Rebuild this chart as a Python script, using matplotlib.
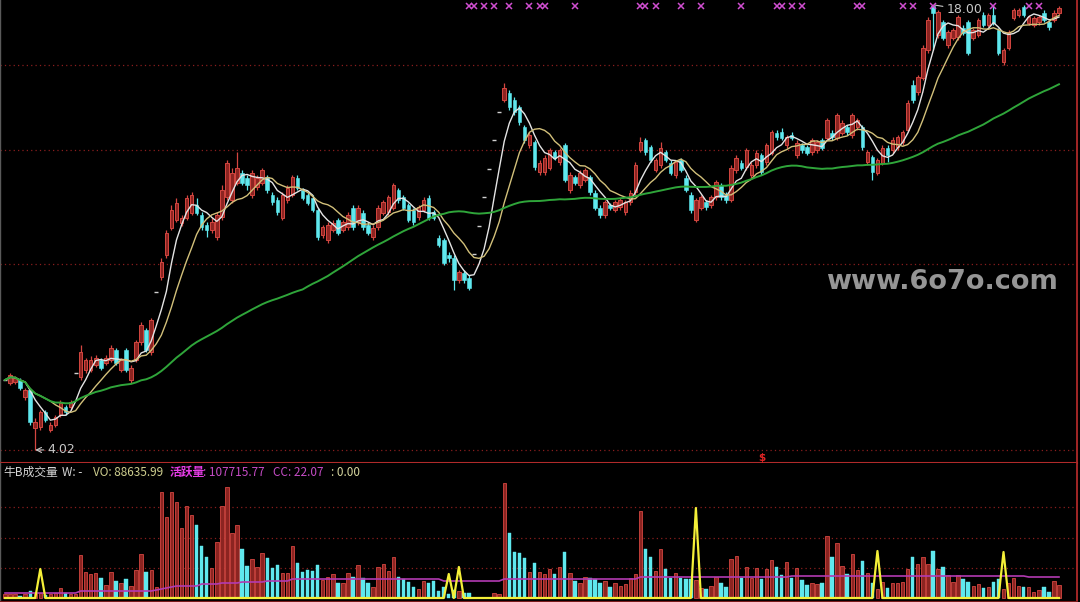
import numpy as np
import pandas as pd
import matplotlib
matplotlib.use("Agg")
import matplotlib.pyplot as plt
from matplotlib.transforms import blended_transform_factory

plt.rcParams['font.family'] = ['Noto Sans CJK SC', 'DejaVu Sans']

# daily candles (price)
opens = [
    6.22, 6.12, 6.16, 6.22, 5.68, 5.90, 4.71, 4.74, 5.21, 4.65,
    4.81, 5.12, 5.37, 5.37, 6.44, 6.31, 6.53, 6.53, 6.69, 6.85,
    6.75, 6.85, 7.16, 6.53, 7.16, 6.22, 6.85, 7.41, 7.79, 7.10,
    8.98, 9.45, 10.14, 10.99, 11.24, 11.15, 11.31, 11.46, 11.71, 11.40,
    11.09, 10.93, 10.71, 11.34, 11.96, 11.87, 12.40, 12.72, 12.56, 12.03,
    12.28, 12.40, 12.59, 12.03, 11.87, 11.31, 11.87, 12.03, 12.56, 12.18,
    12.03, 11.93, 11.56, 10.77, 10.61, 10.93, 11.24, 10.93, 11.02, 11.62,
    11.18, 11.46, 11.09, 10.71, 11.02, 11.46, 11.49, 11.62, 12.18, 11.96,
    11.71, 11.56, 11.34, 11.56, 11.93, 11.49, 10.68, 10.61, 10.14, 10.05,
    9.36, 9.58, 9.42, 10.17, 11.05, 11.96, 12.84, 13.75, 14.63, 15.01,
    15.23, 15.01, 14.79, 14.16, 13.60, 13.69, 12.75, 12.75, 12.87, 13.38,
    13.06, 13.60, 12.18, 12.59, 12.34, 12.50, 12.59, 12.09, 11.62, 11.40,
    11.71, 11.56, 11.65, 11.49, 11.81, 12.12, 13.44, 13.75, 13.53, 12.81,
    12.97, 13.38, 13.03, 12.65, 13.13, 12.56, 12.03, 11.24, 11.62, 11.81,
    11.71, 11.96, 12.34, 12.03, 11.87, 12.81, 13.03, 12.91, 12.65, 12.97,
    13.28, 13.06, 13.35, 13.97, 14.01, 13.60, 13.91, 13.28, 13.60, 13.53,
    13.38, 13.44, 13.75, 13.82, 13.97, 13.82, 13.97, 14.16, 13.91, 14.16,
    14.16, 13.06, 13.22, 12.72, 13.03, 13.50, 13.44, 13.53, 13.69, 14.07,
    15.48, 15.26, 15.70, 16.58, 17.96, 17.05, 17.46, 16.74, 16.96, 16.99,
    17.27, 17.46, 16.96, 17.05, 17.68, 17.37, 17.68, 17.21, 16.20, 16.64,
    17.58, 17.68, 17.93, 17.43, 17.37, 17.46, 17.74, 17.46, 17.52, 17.74,
]
closes = [
    6.22, 6.38, 6.28, 5.97, 5.90, 4.90, 4.90, 5.21, 4.96, 4.81,
    5.06, 5.50, 5.21, 5.53, 6.44, 7.10, 6.85, 6.85, 6.91, 6.59,
    6.91, 7.22, 6.75, 6.85, 6.53, 6.59, 7.41, 7.95, 7.16, 8.10,
    8.98, 9.92, 10.83, 11.56, 11.78, 11.31, 11.93, 12.03, 11.46, 11.02,
    10.93, 11.18, 11.40, 12.18, 13.03, 12.72, 12.87, 12.40, 12.34, 12.72,
    12.56, 12.81, 12.18, 11.81, 11.49, 12.03, 12.25, 12.59, 12.25, 11.93,
    11.78, 11.56, 10.71, 11.02, 11.09, 11.15, 10.83, 11.18, 11.40, 11.02,
    11.62, 11.02, 10.83, 10.99, 11.62, 11.81, 11.96, 12.34, 11.87, 11.62,
    11.24, 11.18, 11.65, 11.87, 11.31, 11.31, 10.46, 9.89, 10.05, 9.36,
    9.61, 9.36, 9.11, 10.17, 11.05, 11.96, 12.84, 13.75, 14.63, 15.39,
    14.79, 14.63, 14.32, 13.75, 13.91, 12.91, 13.03, 13.19, 13.44, 13.19,
    13.44, 12.50, 12.65, 12.40, 12.72, 12.81, 12.12, 11.62, 11.40, 11.81,
    11.62, 11.81, 11.87, 11.81, 12.09, 12.97, 13.69, 13.38, 13.13, 13.13,
    13.50, 13.13, 12.72, 13.06, 12.81, 12.18, 11.56, 11.87, 11.96, 11.65,
    11.96, 12.43, 11.96, 11.87, 12.87, 13.19, 12.87, 13.44, 12.97, 13.35,
    12.75, 13.60, 14.01, 13.85, 13.82, 13.85, 13.82, 13.66, 13.44, 13.35,
    13.75, 13.69, 13.50, 14.38, 13.85, 14.54, 14.29, 14.01, 14.54, 14.38,
    13.53, 13.38, 12.75, 13.13, 13.50, 13.28, 13.75, 13.85, 14.01, 14.92,
    15.01, 15.73, 16.64, 17.52, 17.74, 17.77, 16.96, 17.15, 17.21, 17.62,
    17.11, 16.49, 17.21, 17.52, 17.37, 17.68, 17.43, 16.49, 16.58, 17.15,
    17.84, 17.84, 17.68, 17.62, 17.58, 17.62, 17.52, 17.30, 17.74, 17.90,
]
highs = [
    6.31, 6.44, 6.34, 6.28, 5.97, 5.97, 5.03, 5.28, 5.28, 4.90,
    5.12, 5.59, 5.43, 5.59, 6.44, 7.32, 6.91, 6.97, 7.00, 6.91,
    7.00, 7.32, 7.22, 6.91, 7.22, 6.69, 7.47, 8.04, 7.85, 8.16,
    8.98, 10.05, 10.93, 11.71, 11.93, 11.40, 12.03, 12.12, 11.93, 11.49,
    11.18, 11.31, 11.49, 12.34, 13.13, 12.87, 13.38, 12.81, 12.65, 12.81,
    12.65, 12.87, 12.65, 12.12, 11.96, 12.12, 12.34, 12.65, 12.65, 12.25,
    12.09, 12.03, 11.62, 11.09, 11.18, 11.24, 11.31, 11.24, 11.49, 11.71,
    11.71, 11.56, 11.18, 11.09, 11.71, 11.87, 12.03, 12.40, 12.25, 12.03,
    11.78, 11.62, 11.71, 11.96, 12.03, 11.56, 10.77, 10.68, 10.24, 10.14,
    9.67, 9.67, 9.52, 10.17, 11.05, 11.96, 12.84, 13.75, 14.63, 15.54,
    15.32, 15.10, 14.85, 14.23, 14.01, 13.75, 13.13, 13.28, 13.50, 13.44,
    13.50, 13.66, 12.75, 12.65, 12.81, 12.87, 12.65, 12.18, 11.71, 11.87,
    11.78, 11.87, 11.93, 11.87, 12.18, 13.06, 13.85, 13.82, 13.60, 13.19,
    13.69, 13.44, 13.13, 13.13, 13.19, 12.65, 12.12, 11.93, 12.03, 11.87,
    12.03, 12.50, 12.40, 12.12, 12.97, 13.28, 13.13, 13.50, 13.06, 13.44,
    13.35, 13.66, 14.07, 14.07, 14.13, 13.91, 14.01, 13.75, 13.66, 13.60,
    13.82, 13.75, 13.82, 14.44, 14.07, 14.60, 14.38, 14.23, 14.60, 14.44,
    14.23, 13.44, 13.28, 13.19, 13.60, 13.60, 13.85, 13.91, 14.07, 15.01,
    15.64, 15.80, 16.74, 17.62, 18.00, 17.84, 17.52, 17.21, 17.27, 17.68,
    17.37, 17.52, 17.27, 17.58, 17.77, 17.74, 17.95, 17.27, 16.64, 17.21,
    17.90, 17.90, 17.98, 17.68, 17.65, 17.68, 17.84, 17.52, 17.84, 17.95,
]
lows = [
    6.12, 6.06, 6.09, 5.90, 5.59, 4.81, 4.02, 4.65, 4.90, 4.59,
    4.74, 5.06, 5.12, 5.28, 6.44, 6.22, 6.44, 6.47, 6.63, 6.53,
    6.69, 6.78, 6.69, 6.47, 6.47, 6.12, 6.78, 7.32, 7.10, 7.00,
    8.98, 9.36, 10.05, 10.93, 11.18, 11.05, 11.24, 11.40, 11.40, 10.93,
    10.71, 10.83, 10.61, 11.24, 11.87, 11.78, 12.34, 12.34, 12.18, 11.93,
    12.18, 12.34, 12.09, 11.71, 11.40, 11.24, 11.78, 11.96, 12.18, 11.87,
    11.71, 11.49, 10.61, 10.68, 10.52, 10.87, 10.77, 10.87, 10.93, 10.93,
    11.09, 10.93, 10.77, 10.61, 10.93, 11.40, 11.40, 11.56, 11.78, 11.56,
    11.18, 11.09, 11.24, 11.49, 11.24, 11.24, 10.39, 9.83, 9.92, 9.04,
    9.26, 9.26, 9.04, 10.17, 11.05, 11.96, 12.84, 13.75, 14.63, 14.95,
    14.70, 14.54, 14.23, 13.66, 13.50, 12.81, 12.65, 12.65, 12.81, 13.13,
    12.97, 12.43, 12.09, 12.34, 12.25, 12.43, 12.03, 11.56, 11.31, 11.31,
    11.56, 11.49, 11.56, 11.40, 11.71, 12.03, 13.38, 13.28, 13.06, 12.75,
    12.87, 13.06, 12.65, 12.56, 12.75, 12.12, 11.46, 11.18, 11.56, 11.56,
    11.62, 11.87, 11.87, 11.78, 11.81, 12.72, 12.81, 12.81, 12.56, 12.87,
    12.65, 12.97, 13.28, 13.75, 13.75, 13.50, 13.75, 13.19, 13.35, 13.28,
    13.28, 13.35, 13.44, 13.75, 13.75, 13.75, 13.91, 13.91, 13.82, 14.07,
    13.44, 12.97, 12.50, 12.65, 12.97, 13.06, 13.35, 13.44, 13.60, 14.01,
    14.92, 15.17, 15.64, 16.49, 16.58, 16.96, 16.89, 16.64, 16.89, 16.89,
    17.05, 16.42, 16.89, 16.99, 17.30, 17.30, 17.37, 16.42, 16.11, 16.58,
    17.52, 17.62, 17.62, 17.37, 17.30, 17.37, 17.46, 17.21, 17.46, 17.68,
]
# volume, thousand lots
volumes = [
    24, 24, 24, 12, 24, 42, 30, 30, 18, 24, 30, 60, 30, 24, 24,
    258, 156, 144, 150, 120, 78, 156, 102, 90, 114, 72, 168, 264, 156, 168, 66,
    636, 486, 636, 576, 420, 552, 498, 438, 312, 246, 180, 336, 552, 666, 390, 438,
    294, 192, 234, 186, 270, 240, 180, 198, 150, 150, 312, 210, 156, 168, 162, 198,
    108, 126, 144, 90, 90, 150, 126, 198, 120, 90, 66, 186, 204, 162, 246, 126,
    114, 96, 66, 54, 102, 90, 102, 42, 66, 24, 48, 42, 30, 30, 6, 6, 6, 6, 30, 24,
    690, 390, 276, 270, 240, 156, 210, 156, 144, 174, 144, 186, 276, 150, 102, 90,
    126, 120, 114, 90, 102, 66, 90, 72, 84, 120, 144, 522, 294, 246, 162, 294,
    174, 120, 150, 120, 114, 114, 108, 60, 54, 72, 126,
    90, 66, 234, 252, 120, 186, 120, 180, 114, 174, 228, 186, 138, 216, 120, 180,
    108, 78, 90, 84, 90, 372, 246, 330, 192, 144, 264, 168, 222, 150, 90, 54,
    96, 60, 90, 90, 96, 174, 246, 204, 246, 204, 282, 174, 186, 138, 96, 138,
    114, 96, 72, 84, 60, 66, 96, 114, 54, 90, 120, 72, 66, 66, 36, 48,
    66, 36, 102, 78,
]

# 活跃量 line: level changes (start index, level)
active_from = [0, 15, 30, 31, 32, 33, 34, 39, 43, 47, 52, 57, 87, 99, 126, 156, 203]
active_lvl = [30, 42, 48, 54, 60, 66, 72, 84, 90, 96, 102, 114, 102, 114, 126, 132, 126]
# 牛B成交量 spikes
spike_idx = [7, 88, 90, 137, 173, 198]
spike_val = [174, 144, 186, 540, 282, 276]
# magenta signal marks on top, and the "$" mark
sig_idx = [92, 93, 95, 97, 100, 104, 106, 107, 113, 126, 127, 129, 134, 138,
           146, 153, 154, 156, 158, 169, 170, 178, 180, 184, 196, 203, 205]
dollar_idx = 150

vo_value = 88635.99
active_value = 107715.77
cc_value = 22.07

W, H = 1080, 602
RED = '#d44640'
RED_FILL = '#8c2421'
CYAN = '#5fe8ee'
GRID = '#8a1e1e'

o = np.array(opens)
c = np.array(closes)
hi = np.array(highs)
lo = np.array(lows)
v = np.array(volumes, dtype=float)
x = np.arange(len(c))
n = len(c)

fig = plt.figure(figsize=(W / 100, H / 100), dpi=100, facecolor='black')
ax = fig.add_axes([0, 139 / H, 1077 / W, 463 / H], facecolor='black')
axv = fig.add_axes([0, 0, 1077 / W, 139 / H], facecolor='black')

xlim = (-5 / 5.043, (1077 - 5) / 5.043)

# price panel
for p in [16.11, 13.44, 9.86, 4.02]:
    ax.axhline(p, color=GRID, lw=0.9, ls=(0, (1, 2.5)), zorder=1)

up = c > o
dn = c < o
flat = c == o
ax.vlines(x[up], lo[up], hi[up], color=RED, lw=0.9, zorder=2)
ax.vlines(x[dn], lo[dn], hi[dn], color=CYAN, lw=0.9, zorder=2)
body = np.maximum(np.abs(c - o), 0.04)
ax.bar(x[up], body[up], bottom=o[up], width=0.7, color=RED_FILL,
       edgecolor=RED, lw=0.7, zorder=3)
ax.bar(x[dn], body[dn], bottom=c[dn], width=0.7, color=CYAN,
       edgecolor=CYAN, lw=0.4, zorder=3)
ax.hlines(c[flat], x[flat] - 0.4, x[flat] + 0.4, color='#d0d0d0', lw=1.0, zorder=3)

s = pd.Series(c)
ax.plot(x, s.rolling(5, min_periods=1).mean(), color='#e4e4e4', lw=1.0, zorder=4)
ax.plot(x, s.rolling(10, min_periods=1).mean(), color='#d2c07a', lw=1.0, zorder=4)
ax.plot(x, s.rolling(60, min_periods=1).mean(), color='#2fa53a', lw=1.4, zorder=4)

trans = blended_transform_factory(ax.transData, ax.transAxes)
ax.plot(sig_idx, [0.988] * len(sig_idx), 'x', color='#d04ed0', ms=3.8, mew=1.1,
        transform=trans, zorder=5, clip_on=False)

imax = int(np.argmax(hi))
imin = int(np.argmin(lo))
ax.annotate(f'{hi[imax]:.2f}', xy=(imax, hi[imax]), xytext=(imax + 2.8, hi[imax] - 0.16),
            color='#c8c8c8', fontsize=9, ha='left', va='center', family='DejaVu Sans',
            arrowprops=dict(arrowstyle='-', color='#c8c8c8', lw=0.8, shrinkA=1, shrinkB=1))
ax.annotate(f'{lo[imin]:.2f}', xy=(imin, lo[imin]), xytext=(imin + 2.5, lo[imin]),
            color='#c8c8c8', fontsize=9, ha='left', va='center', family='DejaVu Sans',
            arrowprops=dict(arrowstyle='->', color='#c8c8c8', lw=0.8, shrinkA=1, shrinkB=0))
ax.text(dollar_idx, 3.77, '$', color='#e02424', fontsize=7.5, fontweight='bold',
        ha='center', va='center', family='DejaVu Sans', zorder=5)

ax.set_xlim(*xlim)
ax.set_ylim(3.61, 18.15)
ax.set_xticks([])
ax.set_yticks([])
ax.spines['top'].set_visible(False)
ax.spines['bottom'].set_color('#b02a2a')
ax.spines['bottom'].set_linewidth(1.5)
ax.spines['right'].set_color('#b02a2a')
ax.spines['right'].set_linewidth(1.3)
ax.spines['left'].set_color('#5a5a5a')
ax.spines['left'].set_linewidth(1.0)

# volume panel
for lv in [180, 360, 546]:
    axv.axhline(lv, color=GRID, lw=0.9, ls=(0, (1, 2.5)), zorder=1)

vred = c >= o
axv.bar(x[vred], v[vred], width=0.68, color=RED_FILL, edgecolor=RED, lw=0.6, zorder=2)
axv.bar(x[~vred], v[~vred], width=0.68, color=CYAN, edgecolor=CYAN, lw=0.3, zorder=2)

active = np.repeat(active_lvl, np.diff(active_from + [n]))
axv.plot(x, active, color='#b23ab2', lw=1.2, zorder=3)

niu = np.zeros(n)
niu[spike_idx] = spike_val
axv.plot(x, niu, color='#f4ef38', lw=1.6, zorder=4)

axv.set_xlim(*xlim)
axv.set_ylim(-24, 810)
axv.set_xticks([])
axv.set_yticks([])
axv.spines['top'].set_visible(False)
axv.spines['right'].set_color('#b02a2a')
axv.spines['right'].set_linewidth(1.3)
axv.spines['bottom'].set_color('#7a1a1a')
axv.spines['bottom'].set_linewidth(1.5)
axv.spines['left'].set_color('#5a5a5a')
axv.spines['left'].set_linewidth(1.0)

ty = 1 - 472 / H
pieces = [
    (3, '牛B成交量', '#d4d4d4', 'normal'),
    (62, 'W: -', '#d4d4d4', 'normal'),
    (93, f'VO: {vo_value:.2f}', '#cfcf8f', 'normal'),
    (170, '活跃量', '#e43ce4', 'bold'),
    (203, f': {active_value:.2f}', '#c64cc6', 'normal'),
    (273, f'CC: {cc_value:.2f}', '#c64cc6', 'normal'),
    (331, ': 0.00', '#d8d8a0', 'normal'),
]
for px, txt, col, wt in pieces:
    fig.text(px / W, ty, txt, color=col, fontsize=8.5, fontweight=wt, ha='left', va='center')

fig.text(942 / W, 1 - 282 / H, 'www.6o7o.com', color='#959595', fontsize=19.5,
         fontweight='bold', ha='center', va='center', family='DejaVu Sans')

fig.savefig('out.png', dpi=100, facecolor='black')
